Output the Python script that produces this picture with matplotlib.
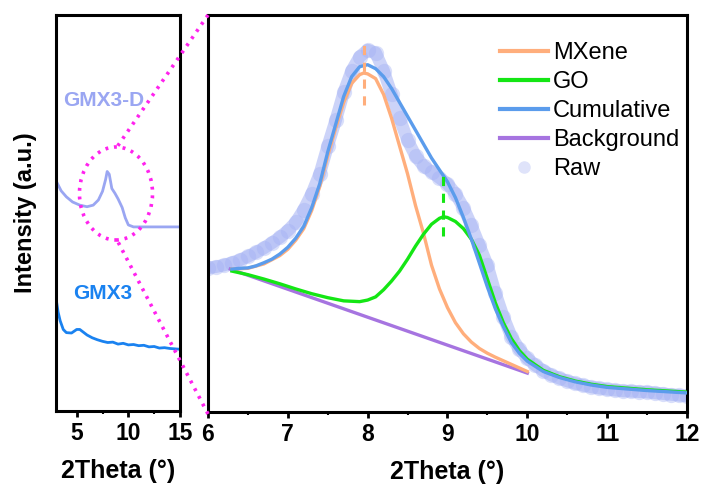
import numpy as np
import matplotlib
matplotlib.use('Agg')
import matplotlib.pyplot as plt
from matplotlib.lines import Line2D
from matplotlib.patches import Ellipse
from matplotlib.ticker import MultipleLocator

plt.rcParams['font.family'] = ['Liberation Sans', 'DejaVu Sans']

# ---- overview panel (left) ----
gmx3d_x = [3.05, 3.5, 4.0, 4.6, 5.3, 6.0, 6.6, 7.1, 7.5, 7.8, 7.95, 8.15, 8.4, 8.7, 9.0, 9.4, 9.7, 10.0, 10.5, 12.0, 15.0]
gmx3d_y = [57.9, 55.6, 54.1, 52.8, 52.0, 51.6, 52.0, 53.3, 55.5, 58.5, 60.5, 59.8, 56.2, 55.0, 53.6, 51.4, 48.8, 47.0, 46.5, 46.5, 46.5]

gmx3_x = [3.05, 3.2, 3.4, 3.7, 4.0, 4.5, 5.0, 5.3, 5.7, 6.0, 6.5, 7.0, 7.5, 8.0, 8.5, 9.0, 9.5, 10.0, 10.5, 11.0, 11.5, 12.0, 12.5, 13.0, 13.5, 14.0, 14.5, 15.0]
gmx3_y = [27.6, 25.0, 22.8, 20.6, 19.8, 19.7, 20.6, 20.6, 19.8, 19.2, 18.5, 18.0, 17.6, 17.3, 17.4, 16.9, 17.1, 16.7, 16.8, 16.5, 16.6, 16.2, 16.3, 15.9, 16.0, 15.8, 15.7, 15.6]

# ---- zoomed fit panel (right) ----
raw_x = [6.0, 6.1, 6.2, 6.3, 6.4, 6.5, 6.6, 6.7, 6.8, 6.9,
         7.0, 7.1, 7.2, 7.3, 7.4, 7.5, 7.6, 7.7, 7.8, 7.9,
         8.0, 8.1, 8.2, 8.3, 8.4, 8.5, 8.6, 8.7, 8.8, 8.9,
         9.0, 9.1, 9.2, 9.3, 9.4, 9.5, 9.6, 9.7, 9.8, 9.9,
         10.0, 10.1, 10.2, 10.3, 10.4, 10.5, 10.6, 10.7, 10.8, 10.9,
         11.0, 11.1, 11.2, 11.3, 11.4, 11.5, 11.6, 11.7, 11.8, 11.9, 12.0]
raw_y = [36.3, 36.6, 37.0, 37.6, 38.3, 39.2, 40.2, 41.3, 42.6, 44.0,
         45.7, 47.8, 51.0, 55.0, 60.0, 67.0, 73.5, 80.5, 86.0, 89.5,
         91.2, 90.5, 86.0, 80.0, 74.0, 68.5, 64.5, 62.0, 60.5, 59.0,
         57.5, 55.0, 51.5, 47.0, 42.0, 37.0, 30.0, 24.0, 19.0, 15.8,
         13.5, 11.8, 10.4, 9.3, 8.5, 7.8, 7.2, 6.7, 6.3, 6.0,
         5.7, 5.5, 5.3, 5.2, 5.1, 5.0, 4.8, 4.6, 4.4, 4.2, 4.0]

cum_x = [6.3, 6.4, 6.5, 6.6, 6.7, 6.8, 6.9, 7.0, 7.1, 7.2, 7.3, 7.4, 7.5, 7.6, 7.7, 7.8, 7.9, 8.0,
         8.1, 8.2, 8.3, 8.4, 8.5, 8.6, 8.7, 8.8, 8.9, 9.0, 9.1, 9.2, 9.3, 9.4, 9.5, 9.6, 9.7, 9.8, 9.9,
         10.0, 10.2, 10.4, 10.6, 10.8, 11.0, 11.5, 12.0]
cum_y = [36.0, 36.2, 36.3, 36.8, 37.6, 38.5, 39.8, 41.5, 43.8, 46.8, 51.5, 57.5, 65.5, 72.5, 79.5, 84.5, 87.0, 87.5,
         86.5, 84.5, 81.5, 78.0, 74.5, 71.0, 67.5, 64.0, 61.0, 58.0, 54.0, 49.0, 43.5, 37.5, 31.5, 26.0, 21.5, 17.5, 14.8,
         12.8, 10.2, 8.7, 7.6, 6.8, 6.2, 5.4, 4.8]

mx_x = [6.3, 6.5, 6.7, 6.9, 7.0, 7.1, 7.2, 7.3, 7.4, 7.5, 7.6, 7.7, 7.8, 7.9, 7.95, 8.0,
        8.1, 8.2, 8.3, 8.4, 8.5, 8.6, 8.7, 8.8, 8.9, 9.0, 9.1, 9.2, 9.3, 9.4, 9.5, 9.6, 9.7, 9.8, 9.9, 10.0]
mx_y = [36.0, 36.2, 37.3, 39.4, 41.0, 43.3, 46.2, 50.8, 56.8, 64.5, 71.5, 78.0, 82.8, 85.0, 85.4, 85.2,
        84.0, 80.0, 74.0, 67.0, 60.0, 52.0, 45.0, 37.0, 31.0, 26.3, 22.5, 19.7, 17.6, 16.0, 14.8, 13.8, 12.9, 12.0, 11.1, 10.2]

go_x = [6.3, 6.5, 6.7, 6.9, 7.1, 7.3, 7.5, 7.7, 7.9, 8.0, 8.1, 8.2, 8.3, 8.4, 8.5, 8.6, 8.7, 8.8, 8.9, 8.95,
        9.0, 9.1, 9.2, 9.3, 9.4, 9.5, 9.6, 9.7, 9.8, 9.9, 10.0, 10.2, 10.4, 10.6, 10.8, 11.0, 11.5, 12.0]
go_y = [35.5, 34.6, 33.5, 32.3, 31.0, 29.8, 28.8, 28.0, 27.8, 28.2, 29.0, 30.8, 33.0, 35.5, 38.5, 41.8, 44.8, 47.3, 48.8, 49.2,
        49.0, 48.0, 46.2, 43.5, 39.5, 33.5, 27.5, 22.5, 18.5, 15.5, 13.3, 10.5, 8.9, 7.8, 7.0, 6.4, 5.6, 5.0]

bg_x = [6.28, 10.0]
bg_y = [36.0, 9.8]

mx_peak, mx_mark = 7.95, [77.3, 93.2]
go_peak, go_mark = 8.95, [44.3, 59.7]

c_mx = '#ffae7c'
c_go = '#14e614'
c_cum = '#5b9cec'
c_bg = '#a674e0'
c_raw = '#a2b0f4'

fig = plt.figure(figsize=(7.11, 4.84), dpi=100)
ax1 = fig.add_axes([0.0788, 0.1508, 0.1744, 0.818])
ax2 = fig.add_axes([0.2925, 0.1488, 0.6737, 0.820])

for ax in (ax1, ax2):
    for s in ax.spines.values():
        s.set_linewidth(2.2)
    ax.tick_params(axis='x', which='major', direction='out', length=4, width=2,
                   labelsize=16.5, pad=4)
    ax.tick_params(axis='x', which='minor', direction='out', length=2, width=1.5)
    ax.set_yticks([])

# left panel
ax1.plot(gmx3d_x, gmx3d_y, color='#9aa6f2', lw=2)
ax1.plot(gmx3_x, gmx3_y, color='#1a82f0', lw=2)
ax1.text(7.6, 78.5, 'GMX3-D', color='#9aa6f2', fontsize=15, fontweight='bold',
         ha='center', va='center')
ax1.text(7.5, 29.8, 'GMX3', color='#1a82f0', fontsize=15, fontweight='bold',
         ha='center', va='center')
ax1.set_xlim(3, 15)
ax1.set_ylim(0, 100)
ax1.set_xticks([5, 10, 15])
ax1.xaxis.set_minor_locator(MultipleLocator(2.5))
ax1.set_xlabel('2Theta (°)', fontsize=18, fontweight='bold', labelpad=10)
ax1.set_ylabel('Intensity (a.u.)', fontsize=17, fontweight='bold', labelpad=14)
for lab in ax1.get_xticklabels():
    lab.set_fontweight('bold')

# right panel
ax2.plot(raw_x, raw_y, color=c_raw, lw=9, alpha=0.55, solid_capstyle='round', zorder=1)
ax2.plot(raw_x, raw_y, 'o', color=c_raw, ms=11, alpha=0.4, mec='none', zorder=1)
ax2.plot(bg_x, bg_y, color=c_bg, lw=2.4, zorder=2)
ax2.plot(mx_x, mx_y, color=c_mx, lw=2.4, zorder=3)
ax2.plot(go_x, go_y, color=c_go, lw=2.4, zorder=3)
ax2.plot(cum_x, cum_y, color=c_cum, lw=2.4, zorder=4)
ax2.plot([mx_peak, mx_peak], mx_mark, color=c_mx, lw=2.2, ls=(0, (3, 2.5)), zorder=5)
ax2.plot([go_peak, go_peak], go_mark, color=c_go, lw=2.2, ls=(0, (3, 2.5)), zorder=5)
ax2.set_xlim(6, 12)
ax2.set_ylim(0, 100)
ax2.set_xticks([6, 7, 8, 9, 10, 11, 12])
ax2.xaxis.set_minor_locator(MultipleLocator(0.5))
ax2.set_xlabel('2Theta (°)', fontsize=18, fontweight='bold', labelpad=10)
for lab in ax2.get_xticklabels():
    lab.set_fontweight('bold')

handles = [Line2D([], [], color=c_mx, lw=3),
           Line2D([], [], color=c_go, lw=3),
           Line2D([], [], color=c_cum, lw=3),
           Line2D([], [], color=c_bg, lw=3),
           Line2D([], [], marker='o', ls='none', color='#dfe3fa', ms=8)]
ax2.legend(handles, ['MXene', 'GO', 'Cumulative', 'Background', 'Raw'],
           loc='upper left', bbox_to_anchor=(0.61, 0.931), frameon=False,
           fontsize=17, handlelength=2.03, handletextpad=0.21, labelspacing=0.29,
           borderpad=0, borderaxespad=0)

# magnifier: dotted circle and connector lines in figure pixels
W, H = 711, 484
def fx(px):
    return px / W
def fy(py):
    return 1 - py / H

mag = '#ff22ee'
fig.add_artist(Ellipse((fx(116), fy(193.5)), 73 / W, 93 / H, transform=fig.transFigure,
                       fill=False, edgecolor=mag, lw=2.6, ls=(0, (0.8, 1.6)), zorder=10))
fig.add_artist(Line2D([fx(208), fx(117)], [fy(15), fy(147)], transform=fig.transFigure,
                      color=mag, lw=2.6, ls=(0, (0.8, 1.6)), zorder=10))
fig.add_artist(Line2D([fx(208), fx(117)], [fy(414), fy(240)], transform=fig.transFigure,
                      color=mag, lw=2.6, ls=(0, (0.8, 1.6)), zorder=10))

fig.savefig('out.png', dpi=100)
plt.close(fig)
